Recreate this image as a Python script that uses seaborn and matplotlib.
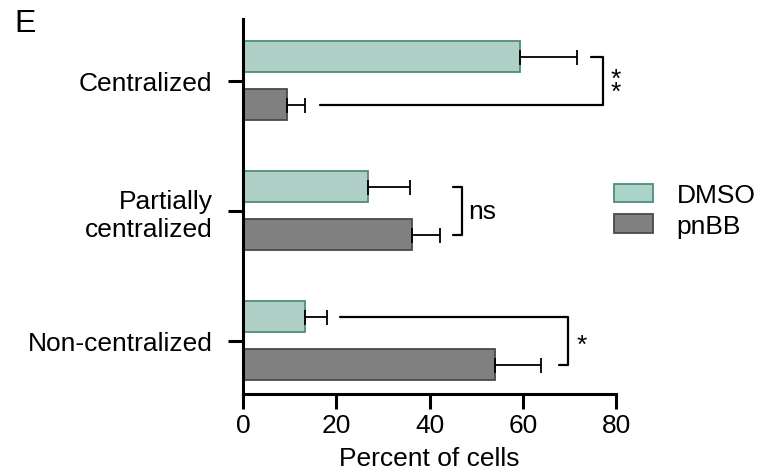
import matplotlib
matplotlib.use("Agg")
import matplotlib.pyplot as plt
import matplotlib.patches as mpatches
import seaborn as sns
import pandas as pd

# Cell categories and treatment groups
categories = ["Centralized", "Partially\ncentralized", "Non-centralized"]
groups = ["DMSO", "pnBB"]
dmso_mean = [59.4, 26.9, 13.3]
dmso_err = [12.3, 8.9, 4.7]
pnbb_mean = [9.4, 36.2, 54.1]
pnbb_err = [3.9, 6.1, 9.8]
x_ticks = [0, 20, 40, 60, 80]

fill = {"DMSO": "#AAD4C9", "pnBB": "#808080"}
edge = {"DMSO": "#4E8D7A", "pnBB": "#4A4A4A"}

df = pd.DataFrame({
    "category": categories * 2,
    "group": [groups[0]] * 3 + [groups[1]] * 3,
    "value": dmso_mean + pnbb_mean,
    "err": dmso_err + pnbb_err,
})

sns.set_style("ticks")
plt.rcParams["font.family"] = ["Liberation Sans", "DejaVu Sans"]
plt.rcParams["text.color"] = "black"
plt.rcParams["axes.labelcolor"] = "black"
plt.rcParams["xtick.color"] = "black"
plt.rcParams["ytick.color"] = "black"

fig = plt.figure(figsize=(7.58, 4.77), dpi=100)
ax = fig.add_axes([243 / 758, 82 / 477, (616 - 243) / 758, (457 - 82) / 477])

sns.barplot(data=df, y="category", x="value", hue="group", orient="h",
            order=categories, hue_order=groups, palette=fill,
            width=0.74, gap=0.35, errorbar=None, legend=False, ax=ax)

# colour edges and one-sided error bars
for patch in ax.patches:
    y = patch.get_y() + patch.get_height() / 2
    w = patch.get_width()
    ci = int(round(y))
    g = groups[0] if y < ci else groups[1]
    patch.set_edgecolor(edge[g])
    patch.set_linewidth(1.3)
    e = df[(df["category"] == categories[ci]) & (df["group"] == g)]["err"].iloc[0]
    ax.errorbar(w, y, xerr=[[0], [e]], fmt="none", ecolor="black",
                elinewidth=1.3, capsize=5.4, capthick=1.3, zorder=3)

ax.set_xlim(0, 80)
ax.set_ylim(2.41, -0.475)
ax.set_xticks(x_ticks)
ax.set_xticklabels([str(t) for t in x_ticks])
ax.set_xlabel("Percent of cells", fontsize=19, labelpad=6, color="black")
ax.set_ylabel("")
for lab in ax.get_yticklabels():
    lab.set_multialignment("right")
ax.tick_params(axis="both", labelsize=19, width=2.2, length=11,
               color="black", labelcolor="black")
ax.tick_params(axis="x", pad=3)
ax.tick_params(axis="y", pad=11)
sns.despine(ax=ax)
for s in ["left", "bottom"]:
    ax.spines[s].set_linewidth(2.2)
    ax.spines[s].set_color("black")

# significance brackets
d = 0.185
lw = 1.6
ax.plot([74.7, 77.3, 77.3, 16.5], [-d, -d, d, d], color="black", lw=lw, clip_on=False)
ax.text(80.0, 0.037, "*\n*", ha="center", va="center", fontsize=19,
        linespacing=0.45, color="black", clip_on=False)
ax.plot([45.0, 46.9, 46.9, 45.0], [1 - d, 1 - d, 1 + d, 1 + d], color="black", lw=lw, clip_on=False)
ax.text(48.3, 1.0, "ns", ha="left", va="center", fontsize=19, color="black")
ax.plot([20.7, 69.8, 69.8, 67.7], [2 - d, 2 - d, 2 + d, 2 + d], color="black", lw=lw, clip_on=False)
ax.text(71.6, 2.03, "*", ha="left", va="center", fontsize=19, color="black", clip_on=False)

handles = [mpatches.Patch(facecolor=fill[g], edgecolor=edge[g], linewidth=1.3, label=g) for g in groups]
fig.legend(handles=handles, loc="center left", bbox_to_anchor=(614 / 758, 1 - 211.5 / 477),
           frameon=False, fontsize=19, handlelength=1.48, handleheight=0.68,
           handletextpad=0.9, labelspacing=0.25, borderpad=0, borderaxespad=0,
           labelcolor="black")

fig.text(14 / 758, 1 - 9 / 477, "E", fontsize=23, ha="left", va="top", color="black")

fig.savefig("out.png", dpi=100)
